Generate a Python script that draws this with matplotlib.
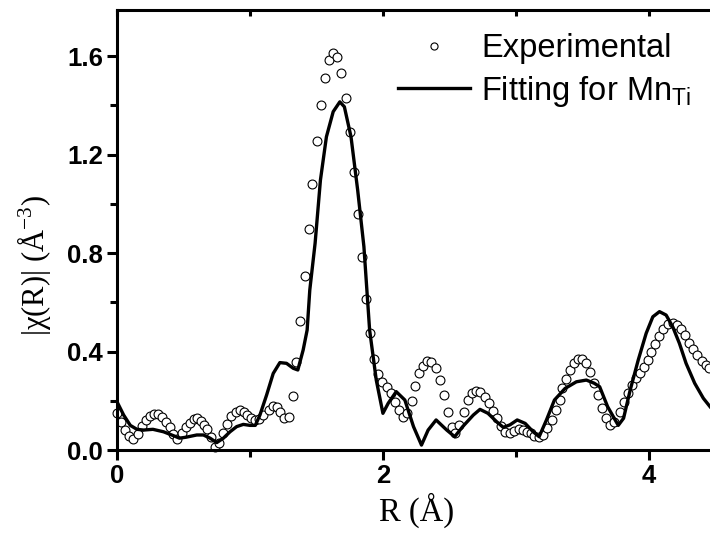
import matplotlib
matplotlib.use('Agg')
import matplotlib.pyplot as plt
from matplotlib.ticker import MultipleLocator, FormatStrFormatter

# experimental |chi(R)| (open circles)
r_exp = [0.00, 0.03, 0.06, 0.09, 0.12, 0.155, 0.185, 0.215, 0.245, 0.275, 0.305, 0.335,
         0.365, 0.395, 0.42, 0.45, 0.486, 0.52, 0.55, 0.58, 0.605, 0.63, 0.655, 0.68, 0.71,
         0.737, 0.767, 0.80, 0.83, 0.86, 0.895, 0.925, 0.955, 0.98, 1.01, 1.04, 1.07, 1.10,
         1.14, 1.17, 1.20, 1.225, 1.256, 1.29, 1.32, 1.35, 1.38, 1.414, 1.444, 1.47, 1.504,
         1.534, 1.566, 1.596, 1.626, 1.656, 1.686, 1.72, 1.75, 1.78, 1.81, 1.84, 1.872, 1.90,
         1.93, 1.965, 1.995, 2.03, 2.06, 2.09, 2.12, 2.15, 2.18, 2.215, 2.245, 2.27, 2.30,
         2.33, 2.36, 2.40, 2.43, 2.46, 2.49, 2.52, 2.545, 2.575, 2.61, 2.64, 2.67, 2.70,
         2.73, 2.77, 2.80, 2.83, 2.86, 2.89, 2.92, 2.955, 2.985, 3.02, 3.05, 3.08, 3.11,
         3.14, 3.175, 3.205, 3.235, 3.27, 3.30, 3.33, 3.35, 3.375, 3.41, 3.44, 3.47, 3.50,
         3.53, 3.56, 3.59, 3.62, 3.65, 3.68, 3.71, 3.74, 3.78, 3.81, 3.84, 3.87, 3.90,
         3.93, 3.96, 3.99, 4.02, 4.05, 4.08, 4.11, 4.145, 4.18, 4.21, 4.24, 4.27, 4.30,
         4.33, 4.36, 4.40, 4.43, 4.45]
chi_exp = [0.15, 0.115, 0.08, 0.057, 0.043, 0.066, 0.097, 0.12, 0.138, 0.148, 0.146, 0.133,
           0.115, 0.092, 0.065, 0.043, 0.068, 0.092, 0.111, 0.125, 0.129, 0.119, 0.102, 0.084,
           0.054, 0.013, 0.028, 0.068, 0.106, 0.138, 0.156, 0.162, 0.156, 0.142, 0.129, 0.12,
           0.125, 0.142, 0.162, 0.179, 0.173, 0.156, 0.129, 0.135, 0.219, 0.357, 0.524, 0.707,
           0.896, 1.081, 1.254, 1.40, 1.512, 1.584, 1.613, 1.595, 1.532, 1.428, 1.293, 1.13,
           0.958, 0.782, 0.613, 0.474, 0.37, 0.307, 0.277, 0.257, 0.23, 0.196, 0.162, 0.135,
           0.152, 0.199, 0.26, 0.311, 0.342, 0.363, 0.357, 0.332, 0.284, 0.223, 0.156, 0.095,
           0.068, 0.101, 0.156, 0.203, 0.23, 0.241, 0.237, 0.216, 0.192, 0.16, 0.129, 0.097,
           0.074, 0.07, 0.078, 0.084, 0.081, 0.074, 0.068, 0.057, 0.052, 0.061, 0.088, 0.122,
           0.162, 0.205, 0.25, 0.287, 0.325, 0.352, 0.368, 0.368, 0.352, 0.318, 0.274, 0.223,
           0.171, 0.129, 0.101, 0.115, 0.156, 0.196, 0.23, 0.264, 0.291, 0.311, 0.336, 0.365,
           0.399, 0.43, 0.463, 0.49, 0.51, 0.514, 0.508, 0.49, 0.467, 0.436, 0.409, 0.386,
           0.363, 0.345, 0.332]

# fit for Mn on Ti site (solid line)
r_fit = [0.00, 0.05, 0.10, 0.15, 0.20, 0.27, 0.35, 0.43, 0.47, 0.52, 0.60, 0.65, 0.70,
         0.75, 0.80, 0.85, 0.90, 0.95, 1.00, 1.04, 1.075, 1.125, 1.175, 1.225, 1.275,
         1.325, 1.36, 1.40, 1.43, 1.45, 1.49, 1.53, 1.575, 1.626, 1.676, 1.71, 1.76, 1.81,
         1.857, 1.90, 1.95, 2.00, 2.04, 2.10, 2.165, 2.23, 2.29, 2.34, 2.40, 2.48, 2.54,
         2.60, 2.68, 2.73, 2.79, 2.855, 2.905, 2.955, 3.01, 3.07, 3.13, 3.175, 3.23, 3.29,
         3.37, 3.455, 3.53, 3.59, 3.63, 3.69, 3.77, 3.81, 3.86, 3.92, 3.98, 4.03, 4.08,
         4.13, 4.18, 4.23, 4.28, 4.345, 4.41, 4.46]
chi_fit = [0.196, 0.142, 0.10, 0.084, 0.081, 0.084, 0.074, 0.057, 0.048, 0.052, 0.061,
           0.061, 0.048, 0.03, 0.048, 0.074, 0.095, 0.104, 0.10, 0.10, 0.142, 0.223, 0.311,
           0.355, 0.352, 0.332, 0.325, 0.406, 0.487, 0.65, 0.84, 1.096, 1.272, 1.374, 1.414,
           1.394, 1.272, 1.056, 0.826, 0.487, 0.284, 0.149, 0.19, 0.237, 0.203, 0.095, 0.02,
           0.081, 0.122, 0.081, 0.054, 0.095, 0.142, 0.165, 0.149, 0.115, 0.092, 0.102,
           0.122, 0.108, 0.074, 0.054, 0.122, 0.203, 0.25, 0.277, 0.284, 0.271, 0.257, 0.176,
           0.10, 0.129, 0.244, 0.365, 0.474, 0.541, 0.562, 0.548, 0.50, 0.433, 0.352, 0.271,
           0.21, 0.176]

sans = 'Liberation Sans'
serif = 'Liberation Serif'
plt.rcParams['mathtext.fontset'] = 'custom'
plt.rcParams['mathtext.rm'] = serif
plt.rcParams['mathtext.sf'] = sans

fig = plt.figure(figsize=(7.10, 5.36), dpi=100)
ax = fig.add_axes([117/710, 1 - 450/536, 1 - 117/710, 440/536])

ax.plot(r_exp, chi_exp, linestyle='none', marker='o', markersize=6.4,
        markerfacecolor='white', markeredgecolor='black', markeredgewidth=0.8,
        label='Experimental', clip_on=False, zorder=2)
ax.plot(r_fit, chi_fit, color='black', linewidth=2.4,
        label=r'Fitting for Mn$_{\mathsf{Ti}}$', zorder=3)

ax.set_xlim(0, 4.46)
ax.set_ylim(0, 1.787)
ax.xaxis.set_major_locator(MultipleLocator(2))
ax.xaxis.set_minor_locator(MultipleLocator(1))
ax.yaxis.set_major_locator(MultipleLocator(0.4))
ax.yaxis.set_minor_locator(MultipleLocator(0.2))
ax.yaxis.set_major_formatter(FormatStrFormatter('%.1f'))

for s in ['left', 'bottom', 'top']:
  ax.spines[s].set_linewidth(2.2)
ax.spines['right'].set_visible(False)
ax.tick_params(which='both', direction='out', width=2.2)
ax.tick_params(which='major', length=7, labelsize=18.5, pad=3)
ax.tick_params(which='minor', length=5)
for lab in ax.get_xticklabels() + ax.get_yticklabels():
  lab.set_fontfamily(sans)
  lab.set_fontweight('bold')

# small inward ticks on the top spine
top = ax.secondary_xaxis('top')
top.xaxis.set_major_locator(MultipleLocator(1))
top.tick_params(direction='in', length=4, width=2.2, labeltop=False)
top.spines['top'].set_visible(False)

ax.set_xlabel('R (Å)', fontfamily=serif, fontsize=23.5)
ax.xaxis.set_label_coords(0.506, -0.098)
ax.xaxis.label.set_verticalalignment('top')
ax.set_ylabel(r'|χ(R)| (Å$^{-3}$)', fontfamily=serif, fontsize=22)
ax.yaxis.set_label_coords(-0.108, 0.42)

leg = ax.legend(loc='upper left', bbox_to_anchor=(398/710, 1 - 33/536),
                bbox_transform=fig.transFigure, frameon=False, borderpad=0,
                borderaxespad=0, handlelength=2.2, handletextpad=0.35,
                labelspacing=0.3, markerscale=0.8, prop={'family': sans, 'size': 23.5})

fig.savefig('out.png', dpi=100)
